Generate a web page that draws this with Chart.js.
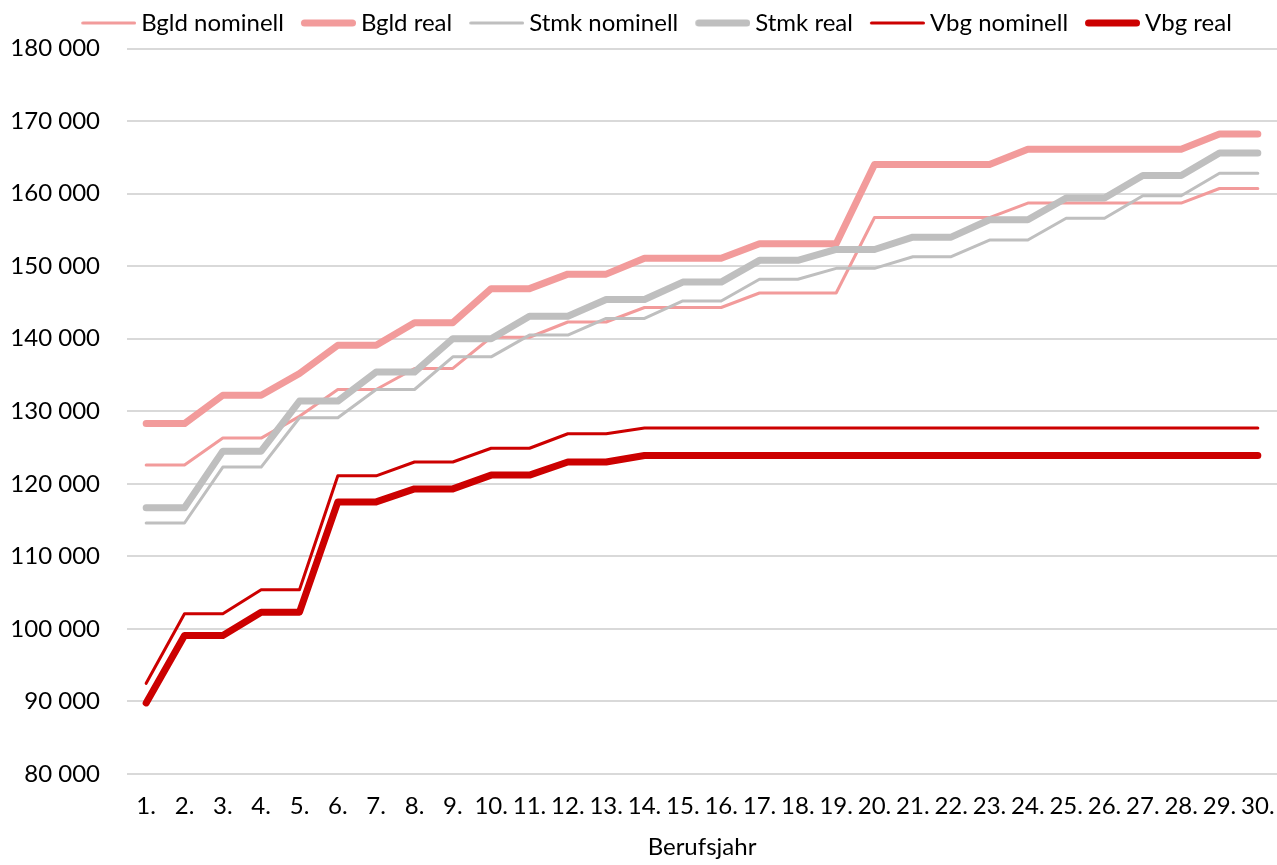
<!DOCTYPE html>
<html>
<head>
<meta charset="utf-8">
<script src="https://cdn.jsdelivr.net/npm/chart.js@4/dist/chart.umd.min.js"></script>
<style>
html,body{margin:0;padding:0;background:#fff;}
#wrap{width:1277px;height:865px;position:relative;}
</style>
</head>
<body>
<div id="wrap"><canvas id="c"></canvas></div>
<script>
const categories = ["1.","2.","3.","4.","5.","6.","7.","8.","9.","10.","11.","12.","13.","14.","15.","16.","17.","18.","19.","20.","21.","22.","23.","24.","25.","26.","27.","28.","29.","30."];
const bgldNominell = [122600,122600,126300,126300,129300,133000,133000,135900,135900,140200,140200,142300,142300,144300,144300,144300,146300,146300,146300,156700,156700,156700,156700,158700,158700,158700,158700,158700,160700,160700];
const bgldReal = [128300,128300,132200,132200,135200,139100,139100,142200,142200,146900,146900,148900,148900,151100,151100,151100,153100,153100,153100,164000,164000,164000,164000,166100,166100,166100,166100,166100,168200,168200];
const stmkNominell = [114600,114600,122300,122300,129100,129100,133000,133000,137500,137500,140500,140500,142800,142800,145200,145200,148200,148200,149700,149700,151300,151300,153600,153600,156600,156600,159700,159700,162800,162800];
const stmkReal = [116700,116700,124500,124500,131400,131400,135400,135400,140000,140000,143100,143100,145400,145400,147800,147800,150800,150800,152300,152300,154000,154000,156400,156400,159400,159400,162500,162500,165600,165600];
const vbgNominell = [92500,102100,102100,105400,105400,121100,121100,123000,123000,124900,124900,126900,126900,127700,127700,127700,127700,127700,127700,127700,127700,127700,127700,127700,127700,127700,127700,127700,127700,127700];
const vbgReal = [89800,99100,99100,102300,102300,117500,117500,119300,119300,121200,121200,123000,123000,123900,123900,123900,123900,123900,123900,123900,123900,123900,123900,123900,123900,123900,123900,123900,123900,123900];
const seriesNames = ["Bgld nominell","Bgld real","Stmk nominell","Stmk real","Vbg nominell","Vbg real"];
const yMin = 80000, yMax = 180000, yStep = 10000;
const xTitle = "Berufsjahr";

const PINK = '#F29B9B', GRAY = '#BFBFBF', RED = '#CC0000';
const FONT = 'Lato';
const THIN = 3, THICK = 7;

function ds(label, data, color, width, idx){
  return {label, data, borderColor: color, backgroundColor: color, borderWidth: width,
    pointRadius: 0, pointHoverRadius: 0, tension: 0, fill: false,
    borderCapStyle: 'round', borderJoinStyle: 'round', order: 10 - idx};
}

// legend sample image: line shifted right so it sits close to its label
function sample(color, width){
  const c = document.createElement('canvas');
  c.width = 64; c.height = 12;
  const g = c.getContext('2d');
  g.strokeStyle = color; g.lineWidth = width; g.lineCap = 'round';
  g.beginPath(); g.moveTo(9 + width / 2, 6); g.lineTo(64 - width / 2, 6); g.stroke();
  return c;
}

const legendTweak = {
  id: 'legendTweak',
  beforeLayout(chart) {
    const lg = chart.legend;
    if (!lg || lg._tweaked) return;
    const f = lg.fit.bind(lg);
    lg.fit = function(){ f(); this.height = 48.5; };
    lg._tweaked = true;
  },
  afterLayout(chart) {
    const lg = chart.legend;
    if (!lg) return;
    lg.left += 17; lg.right += 17;
    lg.top -= 4; lg.bottom -= 4;
  }
};

Chart.defaults.font.family = FONT;
Chart.defaults.color = '#000';

new Chart(document.getElementById('c'), {
  type: 'line',
  data: {
    labels: categories,
    datasets: [
      ds(seriesNames[0], bgldNominell, PINK, THIN, 0),
      ds(seriesNames[1], bgldReal, PINK, THICK, 1),
      ds(seriesNames[2], stmkNominell, GRAY, THIN, 2),
      ds(seriesNames[3], stmkReal, GRAY, THICK, 3),
      ds(seriesNames[4], vbgNominell, RED, THIN, 4),
      ds(seriesNames[5], vbgReal, RED, THICK, 5)
    ]
  },
  plugins: [legendTweak],
  options: {
    responsive: true,
    maintainAspectRatio: false,
    animation: false,
    layout: {padding: {left: 0, right: 0, top: 0, bottom: 0}},
    plugins: {
      tooltip: {enabled: false},
      legend: {
        position: 'top',
        labels: {
          usePointStyle: true,
          pointStyleWidth: 50,
          boxWidth: 50,
          boxHeight: 20,
          padding: 15,
          font: {size: 24, family: FONT},
          color: '#000',
          sort: (a, b) => a.datasetIndex - b.datasetIndex,
          generateLabels: chart => Chart.defaults.plugins.legend.labels.generateLabels(chart).map(l => {
            const d = chart.data.datasets[l.datasetIndex];
            return Object.assign({}, l, {pointStyle: sample(d.borderColor, d.borderWidth)});
          })
        }
      }
    },
    scales: {
      x: {
        offset: true,
        grid: {display: false, drawTicks: false},
        border: {display: false},
        ticks: {autoSkip: false, maxRotation: 0, minRotation: 0, padding: 18, font: {size: 24, family: FONT}, color: '#000'},
        title: {display: true, text: xTitle, font: {size: 24, family: FONT}, color: '#000', padding: {top: 0, bottom: 3}},
        afterFit: s => { s.paddingLeft = 0; s.paddingRight = 0; s.height = 91; }
      },
      y: {
        min: yMin, max: yMax,
        grid: {color: '#D9D9D9', lineWidth: 2, drawTicks: false},
        border: {display: false},
        ticks: {
          stepSize: yStep, padding: 27, font: {size: 24, family: FONT}, color: '#000',
          callback: v => String(v).replace(/\B(?=(\d{3})+(?!\d))/g, ' ')
        },
        afterFit: s => { s.width = 127; s.paddingTop = 0; s.paddingBottom = 0; }
      }
    }
  }
});
</script>
</body>
</html>
